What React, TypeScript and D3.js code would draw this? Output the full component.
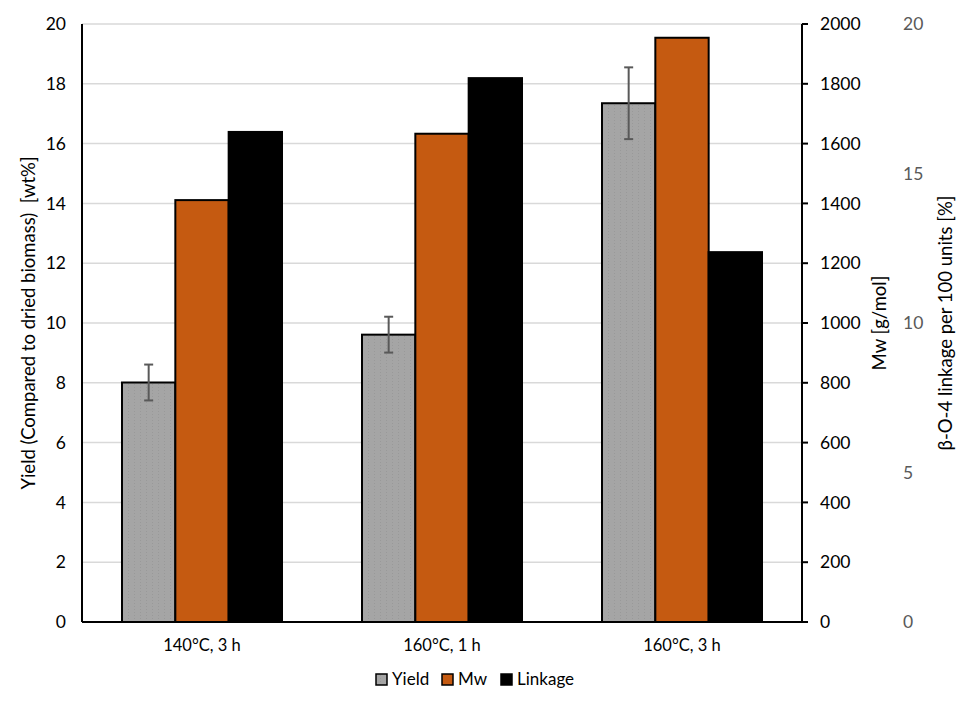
import React from 'react';
import * as d3 from 'd3';

const categories = ['140°C, 3 h', '160°C, 1 h', '160°C, 3 h'];
const seriesNames = ['Yield', 'Mw', 'Linkage'];
const yieldValues = [8.01, 9.61, 17.35];
const yieldErrors = [0.6, 0.6, 1.2];
const mwValues = [1411, 1633, 1954];
const linkageValues = [16.39, 18.19, 12.37];
const yieldTicks = [0, 2, 4, 6, 8, 10, 12, 14, 16, 18, 20];
const mwTicks = [0, 200, 400, 600, 800, 1000, 1200, 1400, 1600, 1800, 2000];
const linkageTicks = [0, 5, 10, 15, 20];

const colors: Record<string, string> = {
  Yield: '#a5a5a5',
  Mw: '#c55a11',
  Linkage: '#000000',
};

const W = 975;
const H = 710;
const plot = { left: 82, right: 802, top: 24, bottom: 622 };
const font = 'Lato, Carlito, "Noto Sans", sans-serif';

const App = (): React.ReactElement => {
  // excel-like gap width 150%: three bars + 1.5 bar widths of gap per category
  const x = d3.scaleBand().domain(categories).range([plot.left, plot.right]).paddingInner(1 / 3).paddingOuter(1 / 6);
  const inner = d3.scaleBand().domain(seriesNames).range([0, x.bandwidth()]);
  const yYield = d3.scaleLinear().domain([0, 20]).range([plot.bottom, plot.top]);
  const yMw = d3.scaleLinear().domain([0, 2000]).range([plot.bottom, plot.top]);
  const yLink = d3.scaleLinear().domain([0, 20]).range([plot.bottom, plot.top]);

  const bars = categories.flatMap((c, i) => [
    { c, s: 'Yield', y: yYield(yieldValues[i]) },
    { c, s: 'Mw', y: yMw(mwValues[i]) },
    { c, s: 'Linkage', y: yLink(linkageValues[i]) },
  ]);

  const legendX = [376, 442, 501];
  const midY = (plot.top + plot.bottom) / 2;

  return (
    <svg width={W} height={H} style={{ position: 'absolute', left: 0, top: 0, background: '#fff' }} fontFamily={font}>
      <defs>
        <pattern id="dots" width="6" height="3" patternUnits="userSpaceOnUse">
          <rect width="6" height="3" fill="#a5a5a5" />
          <rect x="2" y="0" width="1" height="1" fill="#999" />
        </pattern>
      </defs>
      {/* gridlines */}
      {yieldTicks.map((t) => (
        <line key={t} x1={plot.left} x2={plot.right} y1={yYield(t)} y2={yYield(t)} stroke="#d9d9d9" strokeWidth={1.5} />
      ))}
      {/* bars */}
      {bars.map((b) => (
        <rect
          key={b.c + b.s}
          x={(x(b.c) ?? 0) + (inner(b.s) ?? 0)}
          y={b.y}
          width={inner.bandwidth()}
          height={plot.bottom - b.y}
          fill={b.s === 'Yield' ? 'url(#dots)' : colors[b.s]}
          stroke="#000"
          strokeWidth={2}
        />
      ))}
      {/* error bars */}
      {categories.map((c, i) => {
        const cx = (x(c) ?? 0) + (inner('Yield') ?? 0) + inner.bandwidth() / 2;
        const hi = yYield(yieldValues[i] + yieldErrors[i]);
        const lo = yYield(yieldValues[i] - yieldErrors[i]);
        return (
          <g key={c} stroke="#595959" strokeWidth={2}>
            <line x1={cx} x2={cx} y1={hi} y2={lo} />
            <line x1={cx - 4.5} x2={cx + 4.5} y1={hi} y2={hi} />
            <line x1={cx - 4.5} x2={cx + 4.5} y1={lo} y2={lo} />
          </g>
        );
      })}
      {/* axes lines */}
      <line x1={plot.left} x2={plot.left} y1={plot.top} y2={plot.bottom} stroke="#000" strokeWidth={2} />
      <line x1={plot.right} x2={plot.right} y1={plot.top} y2={plot.bottom} stroke="#000" strokeWidth={2} />
      <line x1={plot.left} x2={plot.right + 1} y1={plot.bottom} y2={plot.bottom} stroke="#000" strokeWidth={2} />
      {/* left tick labels */}
      {yieldTicks.map((t) => (
        <text key={t} x={66} y={yYield(t)} dy="0.35em" textAnchor="end" fontSize={17.5} fill="#000">
          {t}
        </text>
      ))}
      {/* Mw axis */}
      {mwTicks.map((t) => (
        <g key={t}>
          <line x1={plot.right} x2={plot.right + 6} y1={yMw(t)} y2={yMw(t)} stroke="#000" strokeWidth={2} />
          <text x={820} y={yMw(t)} dy="0.35em" fontSize={17.5} fill="#000">
            {t}
          </text>
        </g>
      ))}
      {/* linkage axis */}
      {linkageTicks.map((t) => (
        <text key={t} x={903} y={yLink(t)} dy="0.35em" fontSize={17.5} fill="#595959">
          {t}
        </text>
      ))}
      {/* category labels */}
      {categories.map((c) => (
        <text key={c} x={(x(c) ?? 0) + x.bandwidth() / 2} y={645} dy="0.35em" textAnchor="middle" fontSize={16.5} fill="#000">
          {c}
        </text>
      ))}
      {/* axis titles */}
      <text transform={`translate(29,${midY}) rotate(-90)`} textAnchor="middle" dy="0.35em" fontSize={18.5} fill="#000">
        {'Yield (Compared to dried biomass)\u00a0 [wt%]'}
      </text>
      <text transform={`translate(880,${midY}) rotate(-90)`} textAnchor="middle" dy="0.35em" fontSize={18.5} fill="#000">
        Mw [g/mol]
      </text>
      <text transform={`translate(946,${midY}) rotate(-90)`} textAnchor="middle" dy="0.35em" fontSize={18.5} fill="#000">
        β-O-4 linkage per 100 units [%]
      </text>
      {/* legend */}
      {seriesNames.map((s, i) => (
        <g key={s}>
          <rect
            x={legendX[i]}
            y={674}
            width={11}
            height={11}
            fill={s === 'Yield' ? 'url(#dots)' : colors[s]}
            stroke="#000"
            strokeWidth={1.5}
          />
          <text x={legendX[i] + 16} y={679} dy="0.35em" fontSize={17} fill="#000">
            {s}
          </text>
        </g>
      ))}
    </svg>
  );
};

export default App;
